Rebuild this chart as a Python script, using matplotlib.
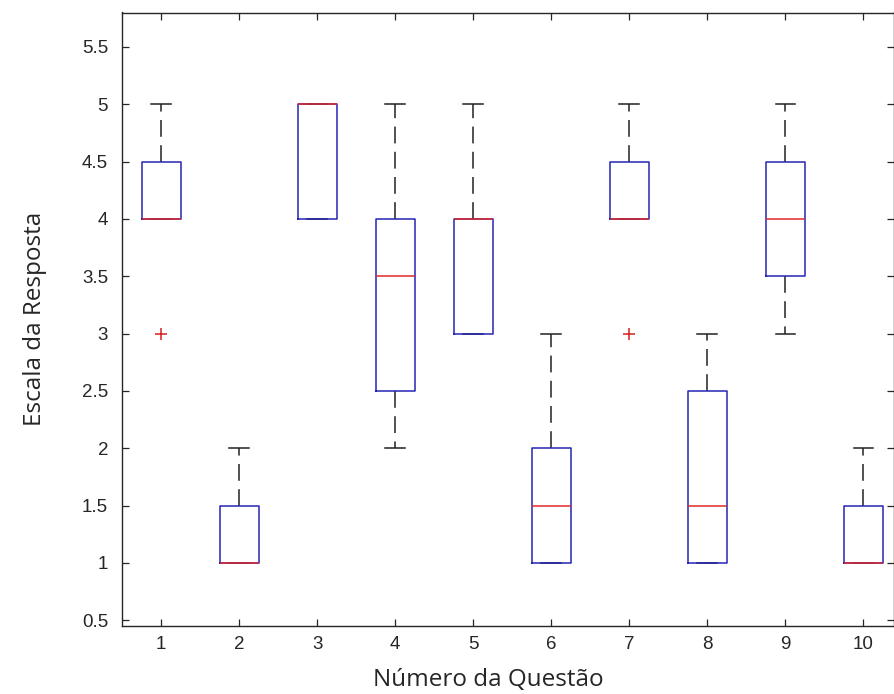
import matplotlib
matplotlib.use("Agg")
import matplotlib.pyplot as plt

questions = [1, 2, 3, 4, 5, 6, 7, 8, 9, 10]
q1 = [4.0, 1.0, 4.0, 2.5, 3.0, 1.0, 4.0, 1.0, 3.5, 1.0]
med = [4.0, 1.0, 5.0, 3.5, 4.0, 1.5, 4.0, 1.5, 4.0, 1.0]
q3 = [4.5, 1.5, 5.0, 4.0, 4.0, 2.0, 4.5, 2.5, 4.5, 1.5]
whislo = [4.0, 1.0, 4.0, 2.0, 3.0, 1.0, 4.0, 1.0, 3.0, 1.0]
whishi = [5.0, 2.0, 5.0, 5.0, 5.0, 3.0, 5.0, 3.0, 5.0, 2.0]
fliers = [[3.0], [], [], [], [], [], [3.0], [], [], []]
yticks = [0.5, 1, 1.5, 2, 2.5, 3, 3.5, 4, 4.5, 5, 5.5]
ytick_labels = ["0.5", "1", "1.5", "2", "2.5", "3", "3.5", "4", "4.5", "5", "5.5"]

stats = []
for i in range(len(questions)):
    stats.append(dict(med=med[i], q1=q1[i], q3=q3[i], whislo=whislo[i],
                      whishi=whishi[i], fliers=fliers[i], label=str(questions[i])))

fig = plt.figure(figsize=(8.95, 6.94), dpi=100)
ax = fig.add_axes([122 / 895, 1 - 626 / 694, (894.5 - 122) / 895, (626 - 12.5) / 694])

txt = "#262626"
ax.bxp(stats, positions=questions, widths=0.5, capwidths=0.25,
       boxprops=dict(color="#2424b4", lw=1.1, zorder=3),
       medianprops=dict(color="#e02828", lw=1.1, zorder=4),
       whiskerprops=dict(color="#222222", lw=1.1, linestyle=(0, (11, 5.5)), zorder=2),
       capprops=dict(color="#222222", lw=1.1, zorder=2),
       flierprops=dict(marker="+", markeredgecolor="#d42020", markersize=9,
                       markeredgewidth=1.1, linestyle="none"))

ax.set_xlim(0.5, 10.4)
ax.set_ylim(0.45, 5.8)
ax.set_xticks(questions)
ax.set_xticklabels([str(q) for q in questions])
ax.set_yticks(yticks)
ax.set_yticklabels(ytick_labels)

for s in ax.spines.values():
    s.set_color(txt)
    s.set_linewidth(1.0)
ax.tick_params(direction="in", length=5, width=0.9, color=txt, labelcolor=txt,
               top=True, right=True, labelsize=13.5)
ax.tick_params(axis="x", pad=7)
ax.tick_params(axis="y", pad=10)
for lab in ax.get_xticklabels() + ax.get_yticklabels():
    lab.set_fontfamily("Liberation Sans")

ax.set_xlabel("Número da Questão", fontsize=17.5, color=txt, family="Open Sans")
ax.set_ylabel("Escala da Resposta", fontsize=17.5, color=txt, family="Open Sans")
ax.xaxis.set_label_coords((488 - 122) / 772.5, -0.068)
ax.yaxis.set_label_coords(-0.097, 0.5)

fig.savefig("out.png", dpi=100)
